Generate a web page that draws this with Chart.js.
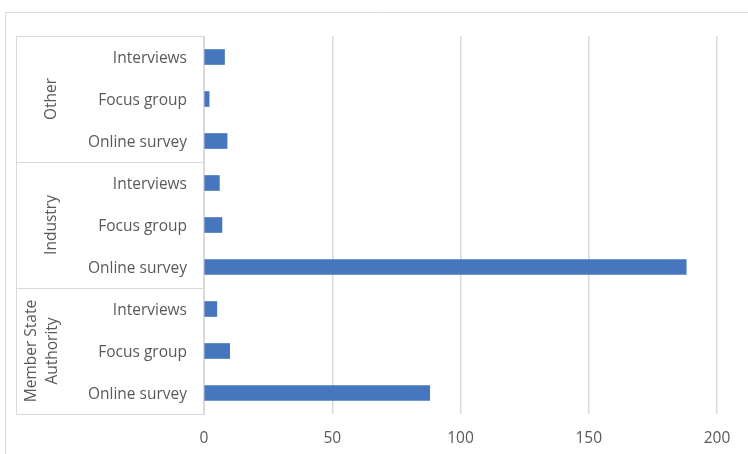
<!DOCTYPE html>
<html>
<head>
<meta charset="utf-8">
<style>
  html, body { margin: 0; padding: 0; background: #fff; }
  #wrap { position: relative; width: 748px; height: 454px; }
</style>
<script src="https://cdn.jsdelivr.net/npm/chart.js@4/dist/chart.umd.min.js"></script>
</head>
<body>
<div id="wrap"><canvas id="chart" width="748" height="454"></canvas></div>
<script>
"use strict";

const methods = ["Interviews", "Focus group", "Online survey"];
const groupNames = [["Other"], ["Industry"], ["Member State", "Authority"]];
const otherValues = [8, 2, 9];
const industryValues = [6, 7, 188];
const authorityValues = [5, 10, 88];
const xTicks = [0, 50, 100, 150, 200];

const labels = [...methods, ...methods, ...methods];
const values = [...otherValues, ...industryValues, ...authorityValues];

const FONT = "'Open Sans', 'Noto Sans', sans-serif";
const TEXT = "#595959";
const LINE = "#d9d9d9";

const groupAxisPlugin = {
  id: "groupAxis",
  beforeDraw(chart) {
    const ctx = chart.ctx;
    ctx.save();
    ctx.strokeStyle = LINE;
    ctx.lineWidth = 1;
    ctx.beginPath();
    ctx.moveTo(5.5, 454);
    ctx.lineTo(5.5, 12.5);
    ctx.lineTo(748, 12.5);
    ctx.stroke();
    ctx.restore();
  },
  afterDraw(chart) {
    const ctx = chart.ctx;
    const y = chart.scales.y;
    const area = chart.chartArea;
    const left = 16.5;
    const right = area.left;
    ctx.save();
    ctx.strokeStyle = LINE;
    ctx.lineWidth = 1;
    ctx.beginPath();
    ctx.moveTo(left, area.top);
    ctx.lineTo(left, area.bottom);
    const perGroup = methods.length;
    for (let g = 0; g <= groupNames.length; g += 1) {
      const edge = Math.round(y.getPixelForValue(g * perGroup - 0.5)) + 0.5;
      ctx.moveTo(left - 0.5, edge);
      ctx.lineTo(right, edge);
    }
    ctx.stroke();

    ctx.fillStyle = TEXT;
    ctx.font = "15.5px " + FONT;
    ctx.textAlign = "center";
    ctx.textBaseline = "middle";
    groupNames.forEach((lines, g) => {
      const cy = y.getPixelForValue(g * perGroup + (perGroup - 1) / 2);
      const xs = lines.length === 1 ? [52] : [32, 53];
      lines.forEach((text, i) => {
        ctx.save();
        ctx.translate(xs[i], cy);
        ctx.rotate(-Math.PI / 2);
        ctx.fillText(text, 0, 0);
        ctx.restore();
      });
    });
    ctx.restore();
  }
};

new Chart(document.getElementById("chart"), {
  type: "bar",
  data: {
    labels,
    datasets: [
      {
        data: values,
        backgroundColor: "#4677be",
        barThickness: 15
      }
    ]
  },
  options: {
    indexAxis: "y",
    responsive: false,
    animation: false,
    layout: { padding: { top: 36, right: 31, left: 0, bottom: 0 } },
    plugins: {
      legend: { display: false },
      tooltip: { enabled: false }
    },
    scales: {
      x: {
        min: xTicks[0],
        max: xTicks[xTicks.length - 1],
        afterBuildTicks(scale) {
          scale.ticks = xTicks.map((v) => ({ value: v }));
        },
        afterFit(scale) {
          scale.height = 40;
        },
        grid: { color: LINE, lineWidth: 1.5, drawTicks: false },
        border: { display: false },
        ticks: { color: TEXT, padding: 15, font: { size: 15.5, family: FONT } }
      },
      y: {
        afterFit(scale) {
          scale.width = 204;
        },
        grid: { display: false },
        border: { display: true, color: LINE, width: 1 },
        ticks: { color: TEXT, padding: 9, labelOffset: 1.5, font: { size: 15.5, family: FONT } }
      }
    }
  },
  plugins: [groupAxisPlugin]
});
</script>
</body>
</html>
